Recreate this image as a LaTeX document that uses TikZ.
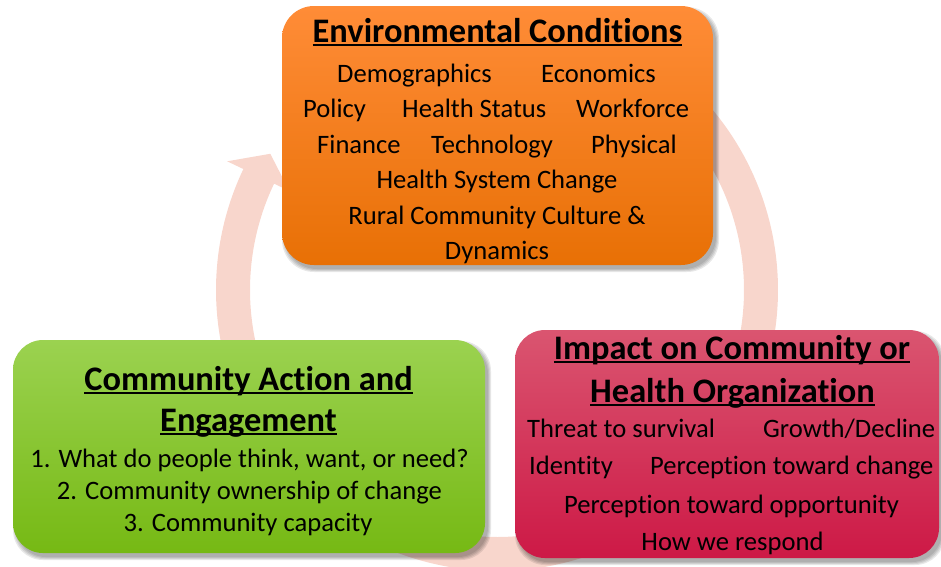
\documentclass[tikz,border=0pt]{standalone}
\usepackage{fontspec}
\setmainfont{Carlito}[Ligatures=NoCommon]
\definecolor{ringcol}{RGB}{248,214,204}
\definecolor{orTop}{RGB}{255,140,55}
\definecolor{orBot}{RGB}{232,112,5}
\definecolor{grTop}{RGB}{155,210,80}
\definecolor{grBot}{RGB}{118,185,20}
\definecolor{rdTop}{RGB}{218,85,112}
\definecolor{rdBot}{RGB}{205,25,70}
\newcommand\ulin[1]{\setbox0\hbox{#1}\rlap{\rule[-3.5pt]{\wd0}{1.8pt}}\box0}
\newcommand\bodyf{\fontsize{26.6}{32}\selectfont}
\newcommand\titlef{\fontsize{34.4}{40}\selectfont\bfseries}
\newcommand\softshadow[5]{%
  \foreach \e in {0,1,2,3}{%
    \fill[black,opacity=0.09,rounded corners=#5]
      ({#1+3-\e},{#2+4-\e}) rectangle ({#3+3+\e},{#4+4+\e});}}
\begin{document}
\begin{tikzpicture}[x=1pt,y=-1pt,
  cbox/.style={rounded corners=#1,inner sep=0pt,draw=none},
  body/.style={inner sep=0pt,font=\bodyf,anchor=base},
  bodyw/.style={inner sep=0pt,font=\bodyf,anchor=base west},
  ttl/.style={inner sep=0pt,font=\titlef,anchor=base}]
\useasboundingbox (0,0) rectangle (941,566);
% circular arrow
\draw[ringcol,line width=34pt]
  plot[domain=290:566.5,samples=200,smooth] ({497+264*cos(\x)},{290+264*sin(\x)});
\fill[ringcol] ({497+299*cos(205.5)},{290+299*sin(205.5)})
  -- ({497+264.5*cos(211)},{290+264.5*sin(211)})
  -- ({497+230*cos(205.5)},{290+230*sin(205.5)}) -- cycle;
% shadows
\softshadow{282}{6}{713}{265}{32pt}
\softshadow{13}{340}{485}{553}{30pt}
\softshadow{515}{330}{939}{558}{30pt}
% boxes
\node[cbox=32pt,top color=orTop,bottom color=orBot,minimum width=431pt,minimum height=259pt] (env) at (497.5,135.5) {};
\node[cbox=30pt,top color=grTop,bottom color=grBot,minimum width=472pt,minimum height=213pt] (act) at (249,446.5) {};
\node[cbox=30pt,top color=rdTop,bottom color=rdBot,minimum width=424pt,minimum height=228pt] (imp) at (727,444) {};
% orange texts
\node[ttl] (envT) at (497.5,42) {\ulin{Environmental Conditions}};
\node[bodyw] (e1a) at (337,82) {Demographics};
\node[bodyw] (e1b) at (541,82) {Economics};
\node[bodyw] (e2a) at (303,117.5) {Policy};
\node[bodyw] (e2b) at (402,117.5) {Health Status};
\node[bodyw] (e2c) at (576,117.5) {Workforce};
\node[bodyw] (e3a) at (317,153) {Finance};
\node[bodyw] (e3b) at (431,153) {Technology};
\node[bodyw] (e3c) at (591,153) {Physical};
\node[body] (e4) at (497,188.5) {Health System Change};
\node[body] (e5) at (497,224) {Rural Community Culture \&};
\node[body] (e6) at (497,259.5) {Dynamics};
% green texts
\node[ttl] (actT1) at (248.5,390) {\ulin{Community Action and}};
\node[ttl] (actT2) at (248.5,431) {\ulin{Engagement}};
\node[body] (a1) at (249.5,467.7) {1. What do people think, want, or need?};
\node[body] (a2) at (249.5,499.3) {2. Community ownership of change};
\node[body] (a3) at (248,531) {3. Community capacity};
% red texts
\node[ttl] (impT1) at (732,359) {\ulin{Impact on Community or}};
\node[ttl] (impT2) at (732.5,402) {\ulin{Health Organization}};
\node[bodyw] (i1a) at (527,437.5) {Threat to survival};
\node[bodyw] (i1b) at (763,437.5) {Growth/Decline};
\node[bodyw] (i2a) at (529,474.5) {Identity};
\node[bodyw] (i2b) at (650,474.5) {Perception toward change};
\node[body] (i3) at (731.5,513) {Perception toward opportunity};
\node[body] (i4) at (732.5,550) {How we respond};
\end{tikzpicture}
\end{document}
